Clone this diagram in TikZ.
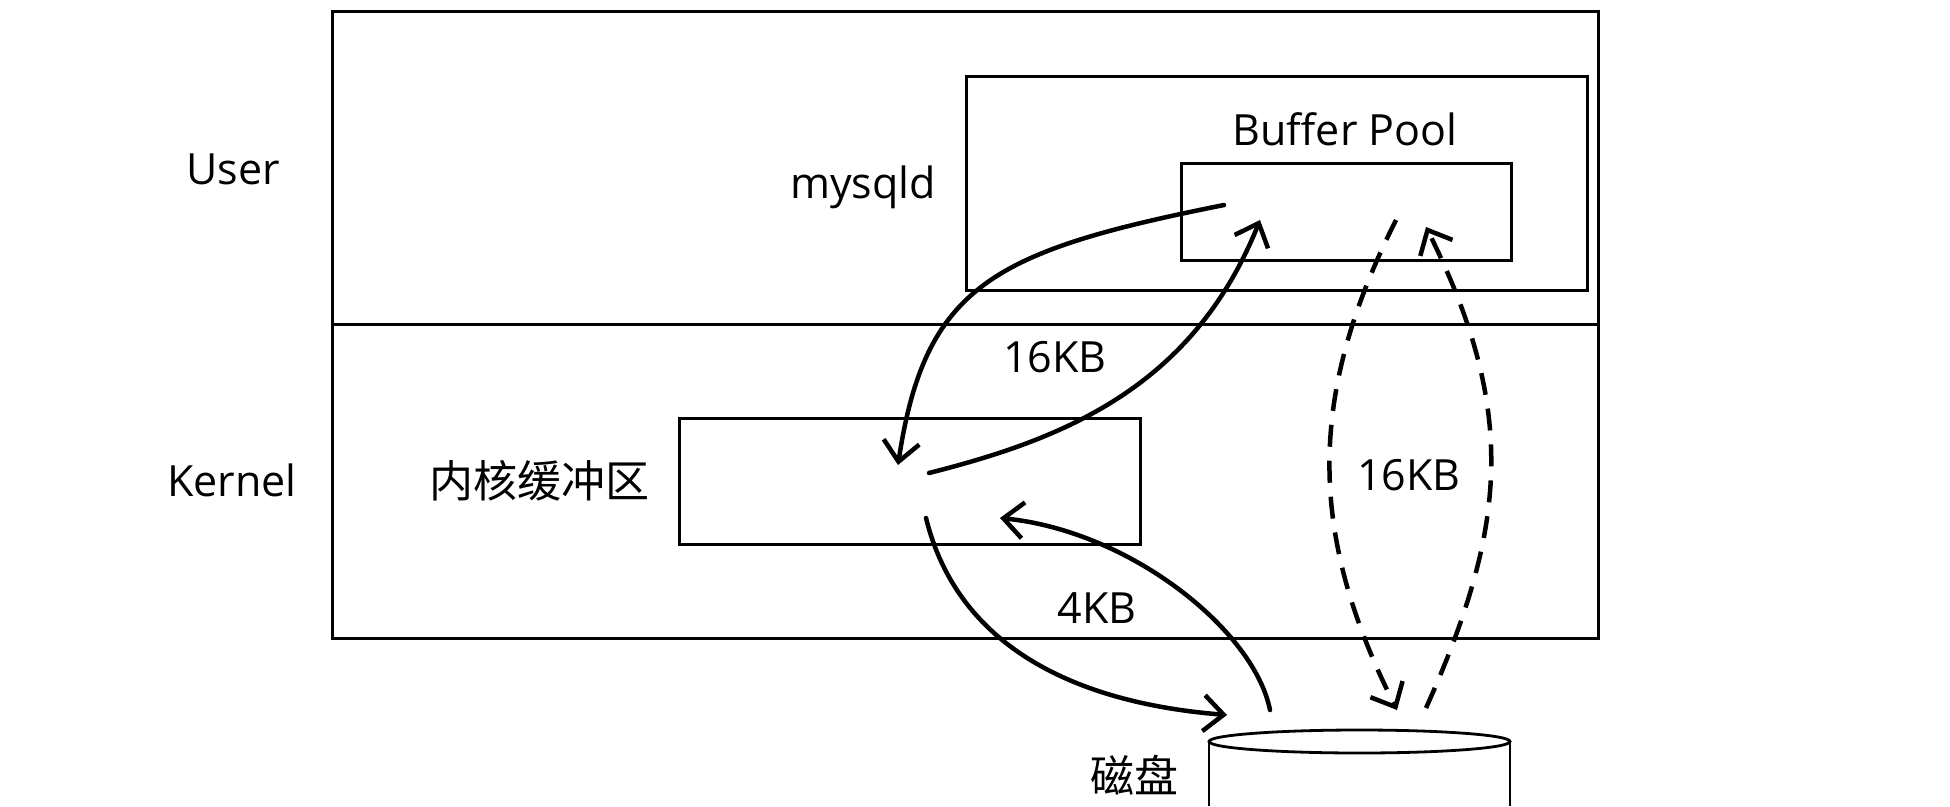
\documentclass[tikz,border=0pt]{standalone}
\usepackage{fontspec}
\setmainfont{Open Sans}
\newfontfamily\cjk{Noto Sans CJK SC}
\usetikzlibrary{arrows.meta,shapes.geometric}
\begin{document}
\begin{tikzpicture}[x=1pt,y=-1pt,
  box/.style={draw=black,line width=2.8pt,inner sep=0pt,anchor=north west},
  lbl/.style={inner sep=0pt,anchor=base,font=\fontsize{43}{48}\selectfont},
  clbl/.style={inner sep=0pt,anchor=base,font=\cjk\fontsize{44}{48}\selectfont},
  flow/.style={line width=4.5pt,line cap=round,-{Straight Barb[length=20pt,width=36pt,line width=4.5pt]}},
  dflow/.style={flow,line cap=butt,dash pattern=on 22pt off 14pt}]
\useasboundingbox (0,0) rectangle (1950,806);
\fill[white] (0,0) rectangle (1950,806);
% boxes
\node[box,minimum width=1266pt,minimum height=313pt] (user) at (331,10) {};
\node[box,minimum width=1266pt,minimum height=314pt] (kernel) at (331,323) {};
\node[box,minimum width=621pt,minimum height=214pt] (mysqld) at (965,75) {};
\node[box,minimum width=330pt,minimum height=97pt] (bp) at (1180,162) {};
\node[box,minimum width=461pt,minimum height=126pt] (kbuf) at (678,417) {};
% disk
\draw[line width=2.8pt] (1209,806) -- (1209,741.5) (1510,741.5) -- (1510,806);
\node[draw=black,line width=2.8pt,ellipse,minimum width=301pt,minimum height=23pt,inner sep=0pt,fill=white] (disk) at (1359.5,741.5) {};
% labels
\node[lbl] (tuser) at (233,184) {User};
\node[lbl] (tkernel) at (232,496) {Kernel};
\node[lbl] (tmysqld) at (863,198) {mysqld};
\node[lbl] (tbp) at (1345,145) {Buffer Pool};
\node[lbl] (t16a) at (1055,372) {16KB};
\node[lbl] (t16b) at (1409,490) {16KB};
\node[lbl] (t4) at (1097,623) {4KB};
\node[clbl] (tkbuf) at (539,497) {内核缓冲区};
\node[clbl] (tdisk) at (1134,792) {磁盘};
% arrow end points
\coordinate (a1s) at (1224,205);
\coordinate (a1e) at (898,465);
\coordinate (a2s) at (929,473);
\coordinate (a2e) at (1260,220);
\coordinate (a3s) at (926,518);
\coordinate (a3e) at (1227,715);
\coordinate (a4s) at (1270,710);
\coordinate (a4e) at (1000,518);
\coordinate (d1s) at (1396,220);
\coordinate (d1e) at (1397,710);
\coordinate (d2s) at (1426,708);
\coordinate (d2e) at (1426,227);
% arrows
\draw[flow] (a1s) .. controls (994,251) and (925,285) .. (a1e);
\draw[flow] (a2s) .. controls (1059,440) and (1192,390) .. (a2e);
\draw[flow] (a3s) .. controls (958,648) and (1077,703) .. (a3e);
\draw[flow] (a4s) .. controls (1254,630) and (1130,531) .. (a4e);
\draw[dflow] (d1s) .. controls (1307,397) and (1308,533) .. (d1e);
\draw[dflow] (d2s) .. controls (1508,525) and (1517,410) .. (d2e);
\end{tikzpicture}
\end{document}
